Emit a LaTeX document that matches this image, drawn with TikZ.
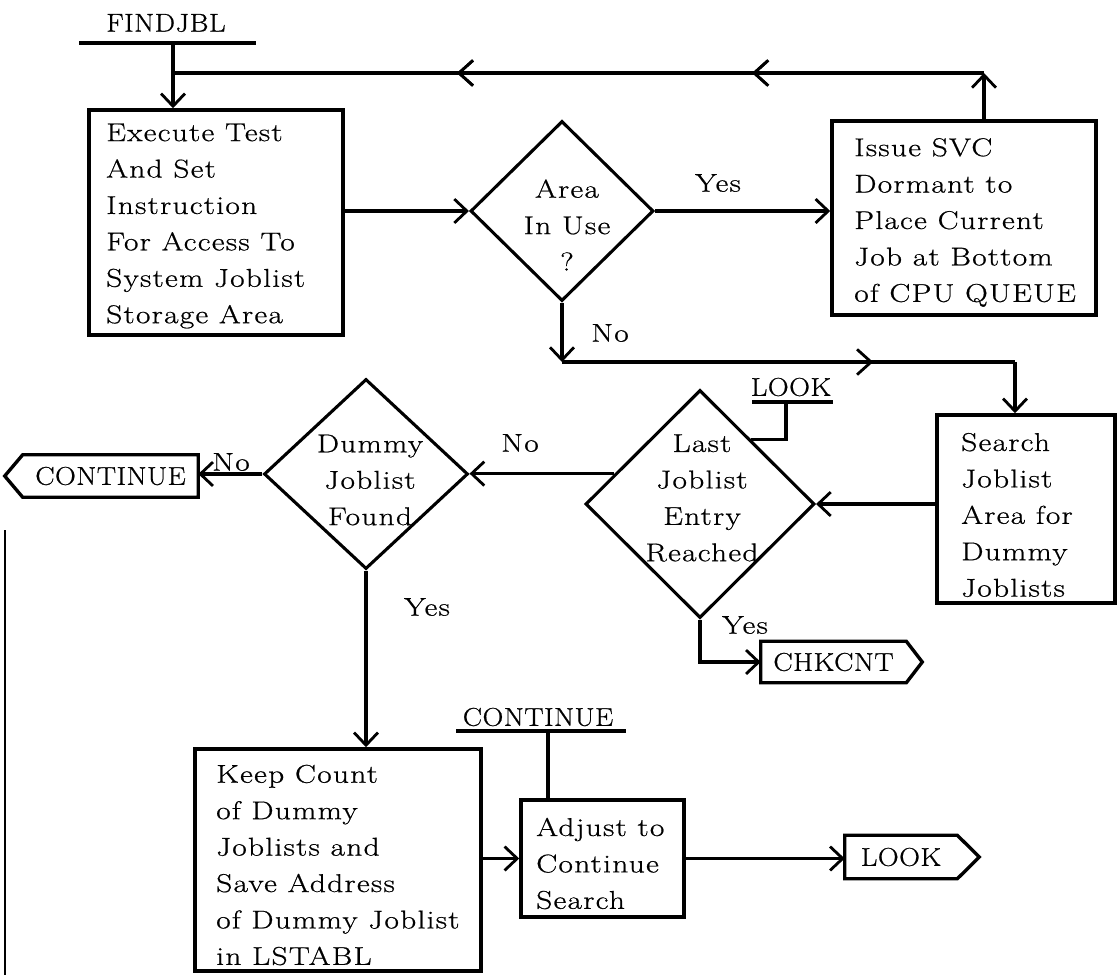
\documentclass[tikz,border=0pt]{standalone}
\usepackage{fontspec}
\setmainfont{Latin Modern Roman}[FakeStretch=1.22,LetterSpace=5,FakeBold=0.7]
\newfontfamily\capsf{Latin Modern Roman}[FakeStretch=1.12,LetterSpace=2,FakeBold=0.7]
\usetikzlibrary{arrows.meta,calc,shapes.geometric,decorations.markings}
\newcommand\pxu{0.025cm}
\newcommand\fs{\fontsize{18.3}{25.9}\selectfont}
\tikzset{
  ln/.style={line width=2.4pt},
  box/.style={draw, rectangle, line width=2.5pt, inner sep=0pt},
  dia/.style={draw, diamond, line width=2.2pt, inner sep=0pt},
  txt/.style={inner sep=0pt, font=\fs},
  captxt/.style={inner sep=0pt, font=\capsf\fs},
  exitbox/.style={rectangle, inner sep=0pt, font=\capsf\fs},
  tipp/.style={-{Straight Barb[length=9pt,width=17pt,line width=2pt]}},
  midarrow/.style={postaction={decorate}, decoration={markings, mark=at position #1 with {\arrow{Straight Barb[length=10pt,width=18pt,line width=2pt]}}}}
}
\begin{document}
\begin{tikzpicture}[x=0.025cm,y=-0.025cm]
\useasboundingbox (0,0) rectangle (1117,975);

% ---- boxes
\node[box, minimum width=254*\pxu, minimum height=225*\pxu] (B1) at (216,222.5) {};
\node[txt, anchor=west, align=left] (T1) at (106,226) {Execute Test\\And Set\\Instruction\\For Access To\\System Joblist\\Storage Area};

\node[box, minimum width=264*\pxu, minimum height=194*\pxu] (B2) at (964,218) {};
\node[txt, anchor=west, align=left] (T2) at (854,222.5) {Issue SVC\\Dormant to\\Place Current\\Job at Bottom\\of CPU QUEUE};

\node[box, minimum width=178*\pxu, minimum height=188*\pxu] (B3) at (1026,509) {};
\node[txt, anchor=west, align=left] (T3) at (961,515) {Search\\Joblist\\Area for\\Dummy\\Joblists};

\node[box, minimum width=286*\pxu, minimum height=222*\pxu] (B4) at (338,860) {};
\node[txt, anchor=west, align=left] (T4) at (216,865) {Keep Count\\of Dummy\\Joblists and\\Save Address\\of Dummy Joblist\\in LSTABL};

\node[box, minimum width=163*\pxu, minimum height=117*\pxu] (A) at (602.5,858.5) {};
\node[txt, anchor=west, align=left] (T5) at (536,863.5) {Adjust to\\Continue\\Search};

% ---- diamonds
\node[dia, minimum width=183*\pxu, minimum height=180*\pxu] (D1) at (562,211) {};
\node[txt, align=center] (TD1) at (567,225) {Area\\In Use\\?};

\node[dia, minimum width=229*\pxu, minimum height=228*\pxu] (D2) at (700,504) {};
\node[txt, align=center] (TD2) at (702,498) {Last\\Joblist\\Entry\\Reached};

\node[dia, minimum width=204*\pxu, minimum height=190*\pxu] (D3) at (366,474) {};
\node[txt, align=center] (TD3) at (370,480) {Dummy\\Joblist\\Found};

% ---- exit connectors (pointed boxes)
\node[exitbox, minimum width=175*\pxu, minimum height=42*\pxu] (CONT) at (110.5,476) {CONTINUE};
\draw[ln] (CONT.north east) -- (CONT.north west) -- ($(CONT.west)+(-18,0)$) -- (CONT.south west) -- (CONT.south east) -- cycle;

\node[exitbox, minimum width=145*\pxu, minimum height=41*\pxu] (CHK) at (833.5,662) {CHKCNT};
\draw[ln] (CHK.north west) -- (CHK.north east) -- ($(CHK.east)+(16,0)$) -- (CHK.south east) -- (CHK.south west) -- cycle;

\node[exitbox, minimum width=112*\pxu, minimum height=43*\pxu] (LX) at (901,857) {LOOK};
\draw[ln] (LX.north west) -- (LX.north east) -- ($(LX.east)+(22,0)$) -- (LX.south east) -- (LX.south west) -- cycle;

% ---- entry labels
\node[captxt] (FJ) at (166,23) {FINDJBL};
\coordinate (FJa) at (79,43);
\coordinate (FJb) at (256,43);
\draw[ln] (FJa) -- (FJb);
\coordinate (FJin) at (173,43);

\node[captxt] (LK) at (791,387) {LOOK};
\coordinate (LKa) at (752,402);
\coordinate (LKb) at (833,402);
\draw[ln] (LKa) -- (LKb);
\coordinate (LKin) at (786,402);

\node[captxt] (CN) at (538,717) {CONTINUE};
\coordinate (CNa) at (456,731);
\coordinate (CNb) at (626,731);
\draw[ln] (CNa) -- (CNb);
\coordinate (CNin) at (548,731);

% ---- connectors
\draw[ln, tipp] (FJin) -- (FJin |- B1.north);

\coordinate (LPr) at (984,73);
\coordinate (LPl) at (173,73);
\draw[ln, tipp] (LPr |- B2.north) -- (LPr);
\draw[ln, midarrow=0.286, midarrow=0.65] (LPr) -- (LPl);

\draw[ln, tipp] (D1.west -| B1.east) -- (D1.west);
\draw[ln, tipp] (D1.east) -- (D1.east -| B2.west);
\node[txt] (Y1) at (718,183) {Yes};

\coordinate (C1) at (562,362);
\coordinate (C2) at (1015,362);
\draw[ln, tipp] (D1.south) -- (C1);
\draw[ln, midarrow=0.687] (C1) -- (C2);
\draw[ln, tipp] (C2) -- (C2 |- B3.north);
\node[txt] (N1) at (610,333) {No};

\draw[ln, tipp] (D2.east -| B3.west) -- (D2.east);

\coordinate (D2lk) at ($(D2.north)!0.44!(D2.east)$);
\draw[ln] (LKin) -- (LKin |- D2lk) -- (D2lk);

\coordinate (D2no) at ($(D2.west)!0.263!(D2.north)$);
\draw[ln, tipp] (D2no) -- (D2no -| D3.east);
\node[txt] (N2) at (520,443) {No};

\draw[ln, tipp] (D2.south) -- (D2.south |- CHK.west) -- (CHK.west);
\node[txt] (Y2) at (745,625) {Yes};

\draw[ln, tipp] (D3.west) -- (D3.west -| CONT.east);
\node[txt] (N3) at (231,462) {No};

\draw[ln, tipp] (D3.south) -- (D3.south |- B4.north);
\node[txt] (Y3) at (427,607) {Yes};

\draw[ln] (CNin) -- (CNin |- A.north);

\draw[ln, tipp] (A.west -| B4.east) -- (A.west);
\draw[ln, tipp] (A.east) -- (A.east -| LX.west);

% ---- page edge line
\coordinate (E1) at (5,530);
\coordinate (E2) at (5,975);
\draw[line width=2pt] (E1) -- (E2);
\end{tikzpicture}
\end{document}
